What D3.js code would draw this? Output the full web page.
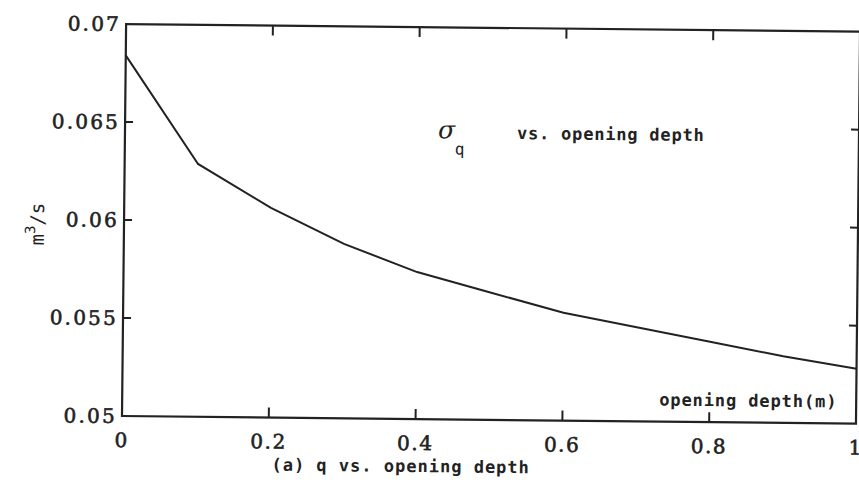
<!DOCTYPE html>
<html>
<head>
<meta charset="utf-8">
<script src="https://cdn.jsdelivr.net/npm/d3@7"></script>
<style>
  html, body { margin: 0; padding: 0; background: #fff; }
  svg { display: block; }
</style>
</head>
<body>
<svg id="chart" width="859" height="499"></svg>
<script>
// ---- data ----
const depth = [0, 0.1, 0.2, 0.3, 0.4, 0.5, 0.6, 0.7, 0.8, 0.9, 1.0];
const qValues = [0.0684, 0.0629, 0.0607, 0.0589, 0.0575, 0.0565, 0.0555, 0.0548, 0.0541, 0.0534, 0.0528];
const xTickValues = [0, 0.2, 0.4, 0.6, 0.8, 1];
const xTickLabels = ["0", "0.2", "0.4", "0.6", "0.8", "1"];
const yTickValues = [0.05, 0.055, 0.06, 0.065, 0.07];
const yTickLabels = ["0.05", "0.055", "0.06", "0.065", "0.07"];
const titleText = "vs. opening depth";
const xAxisTitle = "opening depth(m)";
const caption = "(a) q vs. opening depth";

// ---- layout ----
const plotL = 122, plotT = 24, plotR = 856, plotB = 416;
const ink = "#222";
const labelFont = "'DejaVu Serif', 'Liberation Serif', serif";
const textFont = "'DejaVu Sans Mono', 'Liberation Mono', monospace";

const svg = d3.select("#chart");
// the scanned figure is slightly rotated clockwise
const g = svg.append("g").attr("transform", `rotate(0.6, ${plotL}, ${plotB})`);

const x = d3.scaleLinear().domain([0, 1]).range([plotL, plotR]);
const y = d3.scaleLinear().domain([0.05, 0.07]).range([plotB, plotT]);

// frame
g.append("rect")
  .attr("x", x(0)).attr("y", y(0.07))
  .attr("width", x(1) - x(0)).attr("height", y(0.05) - y(0.07))
  .attr("fill", "none").attr("stroke", ink).attr("stroke-width", 2.2);

// inner ticks on all four sides (no end ticks)
const innerX = xTickValues.filter(v => v > 0 && v < 1);
const innerY = yTickValues.filter(v => v > 0.05 && v < 0.07);
const tickLenX = 10, tickLenY = 8;
const ticks = g.append("g");

ticks.selectAll("line.xb").data(innerX).join("line").attr("class", "xb")
  .attr("x1", d => x(d)).attr("x2", d => x(d))
  .attr("y1", plotB).attr("y2", plotB - tickLenX)
  .attr("stroke", ink).attr("stroke-width", 2);
ticks.selectAll("line.xt").data(innerX).join("line").attr("class", "xt")
  .attr("x1", d => x(d)).attr("x2", d => x(d))
  .attr("y1", plotT).attr("y2", plotT + tickLenX)
  .attr("stroke", ink).attr("stroke-width", 2);
ticks.selectAll("line.yl").data(innerY).join("line").attr("class", "yl")
  .attr("x1", plotL).attr("x2", plotL + tickLenY)
  .attr("y1", d => y(d)).attr("y2", d => y(d))
  .attr("stroke", ink).attr("stroke-width", 2);
ticks.selectAll("line.yr").data(innerY).join("line").attr("class", "yr")
  .attr("x1", plotR).attr("x2", plotR - tickLenY)
  .attr("y1", d => y(d)).attr("y2", d => y(d))
  .attr("stroke", ink).attr("stroke-width", 2);

// tick labels
g.append("g").selectAll("text").data(xTickValues).join("text")
  .attr("x", d => x(d)).attr("y", plotB + 31)
  .attr("text-anchor", "middle")
  .attr("font-family", labelFont).attr("font-size", 20).attr("letter-spacing", 1.5)
  .attr("fill", ink).attr("stroke", ink).attr("stroke-width", 0.6)
  .text((d, i) => xTickLabels[i]);

g.append("g").selectAll("text").data(yTickValues).join("text")
  .attr("x", plotL - 5).attr("y", d => y(d) + 7)
  .attr("text-anchor", "end")
  .attr("font-family", labelFont).attr("font-size", 20).attr("letter-spacing", 2.2)
  .attr("fill", ink).attr("stroke", ink).attr("stroke-width", 0.6)
  .text((d, i) => yTickLabels[i]);

// data line
const line = d3.line().x((d, i) => x(depth[i])).y(d => y(d));
g.append("path").datum(qValues)
  .attr("d", line)
  .attr("fill", "none").attr("stroke", ink).attr("stroke-width", 2);

// sigma_q title
g.append("text")
  .attr("x", 435).attr("y", 135)
  .attr("font-family", "'DejaVu Serif', serif").attr("font-style", "italic")
  .attr("font-size", 25).attr("fill", ink).text("σ");
g.append("text")
  .attr("x", 452).attr("y", 151)
  .attr("font-family", textFont).attr("font-size", 16)
  .attr("fill", ink).text("q");

g.append("text")
  .attr("x", 514).attr("y", 135)
  .attr("font-family", textFont).attr("font-size", 17).attr("letter-spacing", 0.8)
  .attr("font-weight", 600)
  .attr("fill", ink).text(titleText);

g.append("text")
  .attr("x", 659).attr("y", 400)
  .attr("font-family", textFont).attr("font-size", 17).attr("letter-spacing", 0.9)
  .attr("font-weight", 600)
  .attr("fill", ink).text(xAxisTitle);

g.append("text")
  .attr("x", 272).attr("y", 469)
  .attr("font-family", textFont).attr("font-size", 17).attr("letter-spacing", 1.0)
  .attr("font-weight", 600)
  .attr("fill", ink).text(caption);

// y axis unit label m^3/s
const yl = g.append("text")
  .attr("transform", "translate(42,225) rotate(-90)")
  .attr("text-anchor", "middle")
  .attr("font-family", textFont).attr("font-size", 19).attr("fill", ink);
yl.append("tspan").text("m");
yl.append("tspan").attr("font-size", 14).attr("dy", -9).text("3");
yl.append("tspan").attr("dy", 9).text("/s");
</script>
</body>
</html>
